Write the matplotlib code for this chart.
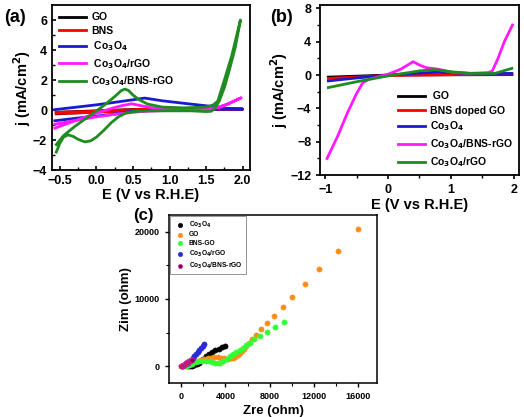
import numpy as np
import matplotlib
matplotlib.use("Agg")
import matplotlib.pyplot as plt

plt.rcParams['font.family'] = ['Liberation Sans', 'DejaVu Sans']
plt.rcParams['font.weight'] = 'bold'
plt.rcParams['axes.labelweight'] = 'bold'
plt.rcParams['mathtext.default'] = 'bf'

# ---- panel (a): CV loops ----
a_labels = ['GO', 'BNS', ' Co$_3$O$_4$', ' Co$_3$O$_4$/rGO', 'Co$_3$O$_4$/BNS-rGO']
a_colors = ['black', 'red', '#1a1ad0', '#ff1aff', '#1f8c1f']

a_go_E = [-0.55, 0.0, 0.5, 1.0, 1.5, 2.0, 1.5, 1.0, 0.5, 0.0, -0.55]
a_go_j = [-0.25, -0.12, -0.02, 0.03, 0.05, 0.05, 0.08, 0.06, 0.04, -0.05, -0.15]
a_bns_E = [-0.55, -0.2, 0.2, 0.6, 1.0, 1.5, 2.0, 1.5, 1.0, 0.5, 0.0, -0.55]
a_bns_j = [-0.22, -0.18, -0.1, 0.0, 0.03, 0.05, 0.06, 0.08, 0.07, 0.03, -0.08, -0.15]
a_co_E = [-0.57, -0.2, 0.2, 0.45, 0.8, 1.2, 1.6, 2.0, 1.8, 1.55, 1.2, 0.9, 0.66, 0.3, 0.0, -0.57]
a_co_j = [-0.71, -0.5, -0.3, -0.1, 0.0, 0.03, 0.05, 0.07, 0.1, 0.26, 0.45, 0.62, 0.8, 0.55, 0.35, 0.03]
a_cor_E = [-0.57, -0.4, -0.2, 0.0, 0.2, 0.35, 0.48, 0.6, 0.8, 1.1, 1.4, 1.6, 1.8, 1.98,
           1.7, 1.4, 1.0, 0.6, 0.3, 0.0, -0.3, -0.57]
a_cor_j = [-1.21, -0.9, -0.55, -0.2, 0.1, 0.3, 0.42, 0.3, 0.12, 0.05, 0.05, 0.1, 0.4, 0.82,
           0.2, 0.0, -0.02, -0.1, -0.25, -0.45, -0.7, -0.94]
a_cob_E = [-0.55, -0.5, -0.45, -0.39, -0.32, -0.25, -0.16, -0.08, 0.0, 0.1, 0.2, 0.3, 0.4, 0.5,
           0.7, 1.0, 1.3, 1.5, 1.57, 1.62, 1.68, 1.75, 1.82, 1.9, 1.97,
           1.85, 1.75, 1.66, 1.6, 1.5, 1.2, 0.9, 0.7, 0.58, 0.5, 0.44, 0.39, 0.34,
           0.25, 0.1, -0.1, -0.3, -0.45, -0.55]
a_cob_j = [-2.8, -2.2, -1.8, -1.65, -1.75, -1.95, -2.12, -2.05, -1.8, -1.35, -0.85, -0.45, -0.2, -0.1,
           -0.05, -0.05, -0.05, -0.1, -0.08, 0.1, 0.6, 1.5, 2.7, 4.2, 6.0,
           3.6, 2.0, 0.6, 0.35, 0.2, 0.15, 0.2, 0.4, 0.7, 1.0, 1.3, 1.4, 1.3,
           0.9, 0.3, -0.4, -1.1, -1.7, -2.3]
a_E = [a_go_E, a_bns_E, a_co_E, a_cor_E, a_cob_E]
a_j = [a_go_j, a_bns_j, a_co_j, a_cor_j, a_cob_j]

# ---- panel (b): LSV ----
b_labels = [' GO', 'BNS doped GO', 'Co$_3$O$_4$', 'Co$_3$O$_4$/BNS-rGO', 'Co$_3$O$_4$/rGO']
b_colors = ['black', 'red', '#1a1ad0', '#ff1aff', '#1f8c1f']
b_go_E = [-0.95, 0.0, 1.0, 1.97]
b_go_j = [-0.25, 0.0, 0.03, 0.05]
b_bns_E = [-0.95, 0.0, 1.0, 1.97]
b_bns_j = [-0.4, -0.05, 0.05, 0.1]
b_co_E = [-0.95, -0.5, 0.0, 0.4, 0.8, 1.2, 1.6, 1.97]
b_co_j = [-0.7, -0.35, 0.0, 0.2, 0.35, 0.22, 0.18, 0.2]
b_cob_E = [-0.97, -0.8, -0.65, -0.5, -0.4, -0.3, -0.2, -0.1, 0.0, 0.2, 0.4, 0.5, 0.6, 0.8,
           1.0, 1.3, 1.6, 1.66, 1.75, 1.85, 1.98]
b_cob_j = [-10.0, -7.3, -4.6, -2.2, -0.9, -0.5, -0.3, -0.1, 0.1, 0.7, 1.6, 1.2, 0.9, 0.7,
           0.35, 0.2, 0.3, 0.5, 2.0, 4.0, 6.0]
b_cor_E = [-0.95, -0.5, 0.0, 0.5, 0.75, 1.0, 1.3, 1.7, 1.97]
b_cor_j = [-1.5, -0.8, -0.1, 0.5, 0.65, 0.4, 0.2, 0.2, 0.8]
b_E = [b_go_E, b_bns_E, b_co_E, b_cob_E, b_cor_E]
b_j = [b_go_j, b_bns_j, b_co_j, b_cob_j, b_cor_j]

# ---- panel (c): Nyquist ----
c_labels = ['Co$_3$O$_4$', 'GO', 'BNS-GO', 'Co$_3$O$_4$/rGO', 'Co$_3$O$_4$/BNS-rGO']
c_colors = ['black', '#ff8c1a', '#33ff33', '#2a2ad8', '#7a0a4a']
c_co_x = [600, 800, 1000, 1200, 1400, 1600, 1800, 2000, 2250, 2500, 2800, 3100, 3400, 3700, 4000]
c_co_y = [0, 30, 100, 200, 350, 550, 800, 1100, 1450, 1750, 2050, 2350, 2600, 2800, 3000]
c_go_x = [0, 200, 400, 600, 900, 1200, 1500, 1800, 2100, 2400, 2700, 3000, 3300, 3600, 3900,
          4200, 4500, 4700, 4900, 5100, 5300, 5500, 5700, 5900, 6100, 6390, 6750, 7230, 7800,
          8400, 9190, 10060, 11180, 12500, 14130, 15970]
c_go_y = [0, 30, 100, 200, 400, 600, 800, 950, 1100, 1200, 1250, 1300, 1300, 1250, 1150,
          1100, 1150, 1250, 1400, 1600, 1900, 2200, 2600, 3000, 3400, 3980, 4680, 5470, 6470,
          7460, 8810, 10340, 12240, 14480, 17210, 20400]
c_bns_x = [400, 700, 1000, 1300, 1600, 1900, 2200, 2500, 2800, 3100, 3300, 3500, 3800, 4100,
           4400, 4700, 5000, 5300, 5600, 5900, 6200, 6600, 7140, 7770, 8470, 9310]
c_bns_y = [50, 200, 400, 600, 750, 800, 800, 750, 650, 500, 450, 500, 750, 1100,
           1500, 1800, 2100, 2400, 2750, 3100, 3500, 3980, 4480, 5070, 5770, 6520]
c_cor_x = [50, 150, 300, 450, 600, 750, 900, 1050, 1200, 1350, 1500, 1650, 1800, 1950, 2100]
c_cor_y = [20, 90, 220, 380, 550, 750, 950, 1200, 1450, 1750, 2050, 2350, 2650, 2950, 3250]
c_cob_x = [0, 80, 160, 240, 320, 400, 480, 560, 640, 720, 800, 880, 960]
c_cob_y = [0, 80, 160, 250, 330, 420, 500, 580, 660, 740, 820, 900, 980]
c_x = [c_co_x, c_go_x, c_bns_x, c_cor_x, c_cob_x]
c_y = [c_co_y, c_go_y, c_bns_y, c_cor_y, c_cob_y]

fig = plt.figure(figsize=(5.24, 4.17), dpi=100)

# (a)
ax1 = fig.add_axes([0.099, 0.592, 0.378, 0.396])
for E, j, c, lab in zip(a_E, a_j, a_colors, a_labels):
    ax1.plot(E, j, color=c, lw=2, label=lab, solid_joinstyle='round')
ax1.set_xlim(-0.61, 2.1)
ax1.set_ylim(-4, 7)
ax1.set_xticks([-0.5, 0.0, 0.5, 1.0, 1.5, 2.0])
ax1.set_yticks([-4, -2, 0, 2, 4, 6])
ax1.set_xticks(np.arange(-0.5, 2.01, 0.25), minor=True)
ax1.set_yticks(np.arange(-4, 7, 1), minor=True)
ax1.tick_params(direction='in', labelsize=9, width=1.2, length=3)
ax1.tick_params(which='minor', direction='in', length=2, width=1)
ax1.set_xlabel('E (V vs R.H.E)', fontsize=10.5, labelpad=1)
ax1.set_ylabel('j (mA/cm$^2$)', fontsize=10.5, labelpad=0)
for s in ax1.spines.values():
    s.set_linewidth(1.3)
ax1.legend(loc='upper left', frameon=False, fontsize=7.5, handlelength=2.6,
           handletextpad=0.5, labelspacing=0.35, borderaxespad=0.3)
fig.text(0.008, 0.958, '(a)', fontsize=13, weight='bold', va='center')

# (b)
ax2 = fig.add_axes([0.611, 0.580, 0.379, 0.408])
for E, j, c, lab in zip(b_E, b_j, b_colors, b_labels):
    ax2.plot(E, j, color=c, lw=2, label=lab, solid_joinstyle='round')
ax2.set_xlim(-1.08, 2.08)
ax2.set_ylim(-12, 8.4)
ax2.set_xticks([-1, 0, 1, 2])
ax2.set_yticks([-12, -8, -4, 0, 4, 8])
ax2.set_xticks(np.arange(-1, 2.01, 0.5), minor=True)
ax2.set_yticks(np.arange(-12, 8.1, 2), minor=True)
ax2.tick_params(direction='out', labelsize=9, width=1.2, length=3)
ax2.tick_params(which='minor', direction='out', length=2, width=1)
ax2.set_xlabel('E (V vs R.H.E)', fontsize=10.5, labelpad=1)
ax2.set_ylabel('j (mA/cm$^2$)', fontsize=10.5, labelpad=0)
for s in ax2.spines.values():
    s.set_linewidth(1.3)
ax2.legend(loc='lower right', frameon=False, fontsize=7.5, handlelength=2.6,
           handletextpad=0.5, labelspacing=0.4, borderaxespad=0.15)
fig.text(0.515, 0.958, '(b)', fontsize=13, weight='bold', va='center')

# (c)
ax3 = fig.add_axes([0.3225, 0.0815, 0.397, 0.403])
for x, y, c, lab in zip(c_x, c_y, c_colors, c_labels):
    ec = '#ff33aa' if lab.endswith('BNS-rGO') else c
    ax3.scatter(x, y, s=14, color=c, edgecolors=ec, linewidths=0.4, label=lab, zorder=3)
ax3.set_xlim(-1100, 17700)
ax3.set_ylim(-2500, 22500)
ax3.set_xticks([0, 4000, 8000, 12000, 16000])
ax3.set_yticks([0, 10000, 20000])
ax3.set_xticks(np.arange(0, 17000, 2000), minor=True)
ax3.set_yticks(np.arange(0, 22000, 5000), minor=True)
ax3.tick_params(direction='out', labelsize=6.5, width=1, length=3)
ax3.tick_params(which='minor', direction='out', length=2, width=0.8)
ax3.set_xlabel('Zre (ohm)', fontsize=9.5, labelpad=3)
ax3.set_ylabel('Zim (ohm)', fontsize=9.5, labelpad=2)
for s in ax3.spines.values():
    s.set_linewidth(1.1)
leg = ax3.legend(loc='upper left', fontsize=4.8, markerscale=0.85, handletextpad=0.3,
                 labelspacing=0.25, borderaxespad=0.2, fancybox=False, edgecolor='0.4',
                 borderpad=0.5)
leg.get_frame().set_linewidth(0.6)
fig.text(0.255, 0.484, '(c)', fontsize=12, weight='bold', va='center')

fig.savefig('out.png', dpi=100)
